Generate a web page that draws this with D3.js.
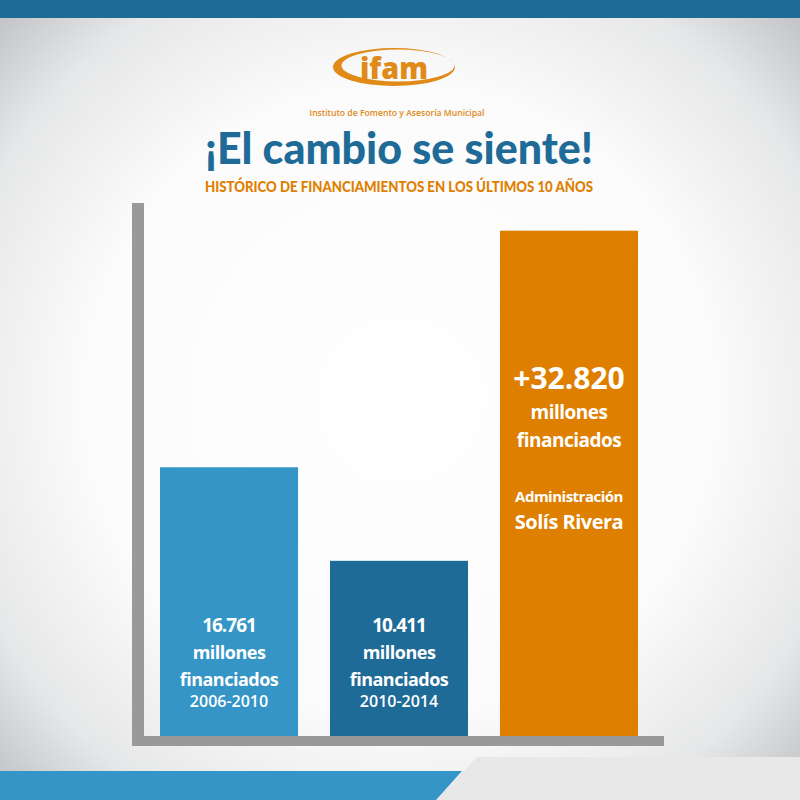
<!DOCTYPE html>
<html><head><meta charset="utf-8">
<script src="https://cdn.jsdelivr.net/npm/d3@7/dist/d3.min.js"></script>
<style>html,body{margin:0;padding:0;background:#fff;}svg{display:block;}</style>
</head><body>
<div id="chart"></div>
<script>
// ---- data ----
const categories = ["2006-2010", "2010-2014", "Administración Solís Rivera"];
const values = [16761, 10411, 32820];
const valueLabels = ["16.761", "10.411", "+32.820"];
const periodLabels = ["2006-2010", "2010-2014", ""];
const barColors = ["#3595c6", "#1f6b98", "#de7f00"];
const title = "¡El cambio se siente!";
const subtitle = "HISTÓRICO DE FINANCIAMIENTOS EN LOS ÚLTIMOS 10 AÑOS";
const orgName = "Instituto de Fomento y Asesoría Municipal";

const W = 800, H = 800;
const svg = d3.select("#chart").append("svg").attr("width", W).attr("height", H);
const defs = svg.append("defs");
const rg = defs.append("radialGradient").attr("id", "bg").attr("cx", "50%").attr("cy", "50%").attr("r", "72%");
rg.append("stop").attr("offset", "0%").attr("stop-color", "#ffffff");
rg.append("stop").attr("offset", "55%").attr("stop-color", "#fbfbfb");
rg.append("stop").attr("offset", "80%").attr("stop-color", "#e6e7e8");
rg.append("stop").attr("offset", "100%").attr("stop-color", "#b9bbbe");
svg.append("rect").attr("width", W).attr("height", H).attr("fill", "url(#bg)");

// top banner
svg.append("rect").attr("x", 0).attr("y", 0).attr("width", W).attr("height", 18).attr("fill", "#1f6b98");
// bottom shapes
svg.append("path").attr("d", "M477,757 L800,757 L800,800 L436,800 Z").attr("fill", "#e8e8e8");
svg.append("path").attr("d", "M0,771 L462,771 L436,800 L0,800 Z").attr("fill", "#3595c6");

// logo (crescent swoosh)
function ellipsePath(cx, cy, rx, ry) {
  return `M${cx - rx},${cy} A${rx},${ry} 0 1,0 ${cx + rx},${cy} A${rx},${ry} 0 1,0 ${cx - rx},${cy} Z`;
}
const logo = svg.append("g");
logo.append("path").attr("d", ellipsePath(394, 67, 61, 19) + " " + ellipsePath(398, 65.5, 56.5, 16))
  .attr("fill", "#e08a17").attr("fill-rule", "evenodd");
logo.append("text").attr("x", 394).attr("y", 79).attr("text-anchor", "middle")
  .attr("font-family", "'Open Sans', sans-serif").attr("font-weight", 800).attr("font-size", 30)
  .attr("fill", "#e08a17").attr("textLength", 68).attr("lengthAdjust", "spacingAndGlyphs").text("ifam");
logo.append("text").attr("x", 397).attr("y", 116).attr("text-anchor", "middle")
  .attr("font-family", "'Open Sans', sans-serif").attr("font-weight", 600).attr("font-size", 9)
  .attr("fill", "#e08a17").attr("textLength", 175).attr("lengthAdjust", "spacingAndGlyphs").text(orgName);

// title
svg.append("text").attr("x", 399).attr("y", 164).attr("text-anchor", "middle")
  .attr("font-family", "Lato, sans-serif").attr("font-weight", 900).attr("font-size", 43)
  .attr("fill", "#1f6b98").attr("textLength", 388).attr("lengthAdjust", "spacingAndGlyphs").text(title);
svg.append("text").attr("x", 399).attr("y", 192).attr("text-anchor", "middle")
  .attr("font-family", "Lato, sans-serif").attr("font-weight", 900).attr("font-size", 15.5)
  .attr("fill", "#e07f00").attr("textLength", 388).attr("lengthAdjust", "spacingAndGlyphs").text(subtitle);

// scales
const x = d3.scaleBand().domain(categories).range([160, 638]).paddingInner(0.188).paddingOuter(0);
const y = d3.scaleLinear().domain([-1480, 34700]).range([736, 203]);
const base = y(-1480);

// axes (thick gray bars)
svg.append("rect").attr("x", 132).attr("y", y(34700)).attr("width", 12).attr("height", 746 - y(34700)).attr("fill", "#999999");
svg.append("rect").attr("x", 132).attr("y", base).attr("width", 664 - 132).attr("height", 10).attr("fill", "#999999");

// bars
svg.selectAll("rect.bar").data(categories).enter().append("rect").attr("class", "bar")
  .attr("x", d => x(d)).attr("width", x.bandwidth())
  .attr("y", (d, i) => y(values[i])).attr("height", (d, i) => base - y(values[i]))
  .attr("fill", (d, i) => barColors[i]);

const font = "'Open Sans', sans-serif";
function label(cx, yy, txt, size, weight, ls) {
  svg.append("text").attr("x", cx).attr("y", yy).attr("text-anchor", "middle")
    .attr("font-family", font).attr("font-weight", weight || 700).attr("font-size", size)
    .attr("fill", "#ffffff").style("letter-spacing", (ls == null ? -0.5 : ls) + "px").text(txt);
}
// small bars: labels near bottom
[0, 1].forEach(i => {
  const cx = x(categories[i]) + x.bandwidth() / 2;
  label(cx, 632, valueLabels[i], 19, 700, -1);
  label(cx, 659, "millones", 18);
  label(cx, 686, "financiados", 18);
  label(cx, 707, periodLabels[i], 16, 600, 0);
});
// big bar
{
  const cx = x(categories[2]) + x.bandwidth() / 2;
  label(cx, 389, valueLabels[2], 30, 700, 0);
  label(cx, 419, "millones", 19);
  label(cx, 447, "financiados", 19);
  label(cx, 502, "Administración", 15);
  label(cx, 529, "Solís Rivera", 20);
}
</script>
</body></html>
